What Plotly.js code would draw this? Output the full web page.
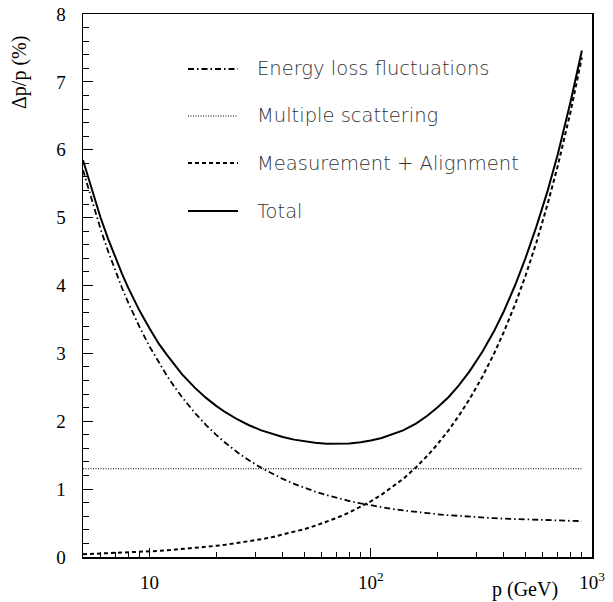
<!DOCTYPE html>
<html>
<head>
<meta charset="utf-8">
<script src="https://cdn.plot.ly/plotly-3.0.1.min.js"></script>
<style>html,body{margin:0;padding:0;background:#fff;}#chart{width:613px;height:602px;}</style>
</head>
<body>
<div id="chart"></div>
<script>
// momentum values (GeV)
var momentum = [5, 5.5, 6, 6.5, 7, 7.5, 8, 9, 10, 11, 12, 13, 14, 16, 18, 20, 22, 25, 28, 32, 36, 40, 45, 50, 56, 63, 70, 80, 90, 100, 112, 125, 140, 160, 180, 200, 225, 250, 280, 320, 360, 400, 450, 500, 560, 630, 700, 800, 900];
// Energy loss fluctuations (%)
var energyLoss = [5.70, 5.227, 4.833, 4.50, 4.214, 3.967, 3.75, 3.389, 3.10, 2.864, 2.667, 2.50, 2.357, 2.125, 1.944, 1.80, 1.682, 1.54, 1.429, 1.313, 1.222, 1.15, 1.078, 1.02, 0.964, 0.913, 0.871, 0.825, 0.789, 0.76, 0.732, 0.708, 0.686, 0.663, 0.644, 0.63, 0.616, 0.604, 0.593, 0.581, 0.572, 0.565, 0.558, 0.552, 0.546, 0.541, 0.537, 0.533, 0.529];
// Multiple scattering (%)
var multScatMomentum = [5, 900];
var multScat = [1.3, 1.3];
// Measurement + Alignment (%)
var measAlign = [0.04, 0.045, 0.05, 0.053, 0.057, 0.061, 0.065, 0.074, 0.082, 0.09, 0.098, 0.107, 0.115, 0.13, 0.148, 0.165, 0.18, 0.205, 0.23, 0.262, 0.295, 0.33, 0.37, 0.41, 0.46, 0.517, 0.575, 0.656, 0.74, 0.82, 0.92, 1.03, 1.15, 1.32, 1.49, 1.66, 1.87, 2.08, 2.33, 2.66, 2.99, 3.32, 3.73, 4.14, 4.63, 5.20, 5.76, 6.56, 7.36];
// Total (%)
var total = [5.846, 5.389, 5.002, 4.684, 4.409, 4.175, 3.968, 3.630, 3.367, 3.143, 2.974, 2.822, 2.695, 2.495, 2.344, 2.227, 2.133, 2.026, 1.945, 1.866, 1.809, 1.767, 1.729, 1.703, 1.683, 1.670, 1.667, 1.674, 1.691, 1.715, 1.753, 1.803, 1.866, 1.965, 2.080, 2.203, 2.357, 2.529, 2.738, 3.027, 3.321, 3.624, 4.011, 4.399, 4.863, 5.394, 5.931, 6.707, 7.462];

var seriesNames = ["Energy loss fluctuations", "Multiple scattering", "Measurement + Alignment", "Total"];
var xTickVals = [10, 100, 1000];
var xTickText = ["10", "10<sup>2</sup>", "10<sup>3</sup>"];
var xMinorVals = [6, 7, 8, 9, 20, 30, 40, 50, 60, 70, 80, 90, 200, 300, 400, 500, 600, 700, 800, 900];

var dashes = ["6px,3px,1.5px,3px", "1px,1.5px", "4px,3px", "solid"];
var widths = [1.8, 1, 2, 2];

var traces = [
  {x: momentum, y: energyLoss, name: seriesNames[0]},
  {x: multScatMomentum, y: multScat, name: seriesNames[1]},
  {x: momentum, y: measAlign, name: seriesNames[2]},
  {x: momentum, y: total, name: seriesNames[3]}
].map(function(t, i){
  t.type = 'scatter'; t.mode = 'lines'; t.line = {color: '#000', width: widths[i], dash: dashes[i], shape: 'linear'};
  t.showlegend = false; t.hoverinfo = 'skip';
  return t;
});

// manual legend
var L = 83, T = 14, W = 509, H = 543;
function px(xp){ return (xp - L) / W; }
function py(yp){ return 1 - (yp - T) / H; }
var rowY = [69, 116, 163, 211];
var shapes = [], annotations = [];
rowY.forEach(function(y, i){
  shapes.push({type: 'line', xref: 'paper', yref: 'paper', x0: px(188), x1: px(238), y0: py(y), y1: py(y),
    line: {color: '#000', width: widths[i], dash: dashes[i]}});
  annotations.push({xref: 'paper', yref: 'paper', x: px(255), y: py(y), xanchor: 'left', yanchor: 'middle',
    text: seriesNames[i], showarrow: false, font: {family: 'DejaVu Sans', size: 19.5, weight: 200, color: '#333'}});
});
annotations.push({xref: 'paper', yref: 'paper', x: px(19), y: py(73), textangle: -90, xanchor: 'center', yanchor: 'middle',
  text: 'Δp/p (%)', showarrow: false, font: {family: 'Liberation Serif', size: 20, color: '#000'}});
annotations.push({xref: 'paper', yref: 'paper', x: px(525), y: py(589), xanchor: 'center', yanchor: 'middle',
  text: 'p (GeV)', showarrow: false, font: {family: 'Liberation Serif', size: 20, color: '#000'}});

var layout = {
  width: 613, height: 602,
  margin: {l: L, r: 613 - L - W, t: T, b: 602 - T - H},
  paper_bgcolor: '#fff', plot_bgcolor: '#fff',
  showlegend: false,
  font: {family: 'Liberation Serif', size: 19, color: '#000'},
  xaxis: {
    type: 'log', range: [Math.log10(5), 3],
    showgrid: false, zeroline: false,
    showline: true, linecolor: '#000', linewidth: 1.5, mirror: true,
    tickmode: 'array', tickvals: xTickVals, ticktext: xTickText,
    ticks: 'inside', ticklen: 9, tickwidth: 1, tickcolor: '#000',
    ticklabelstandoff: 8,
    minor: {tickmode: 'array', tickvals: xMinorVals, ticks: 'inside', ticklen: 5, tickwidth: 1, tickcolor: '#000', showgrid: false},
    tickfont: {family: 'Liberation Serif', size: 19}
  },
  yaxis: {
    range: [0, 8],
    showgrid: false, zeroline: false,
    showline: true, linecolor: '#000', linewidth: 1.5, mirror: true,
    tickmode: 'linear', tick0: 0, dtick: 1,
    ticks: 'inside', ticklen: 10, tickwidth: 1, tickcolor: '#000',
    ticklabelstandoff: 12,
    minor: {dtick: 0.2, ticks: 'inside', ticklen: 5.5, tickwidth: 1, tickcolor: '#000', showgrid: false},
    tickfont: {family: 'Liberation Serif', size: 19}
  },
  shapes: shapes,
  annotations: annotations
};

Plotly.newPlot('chart', traces, layout, {staticPlot: true, displayModeBar: false});
</script>
</body>
</html>
